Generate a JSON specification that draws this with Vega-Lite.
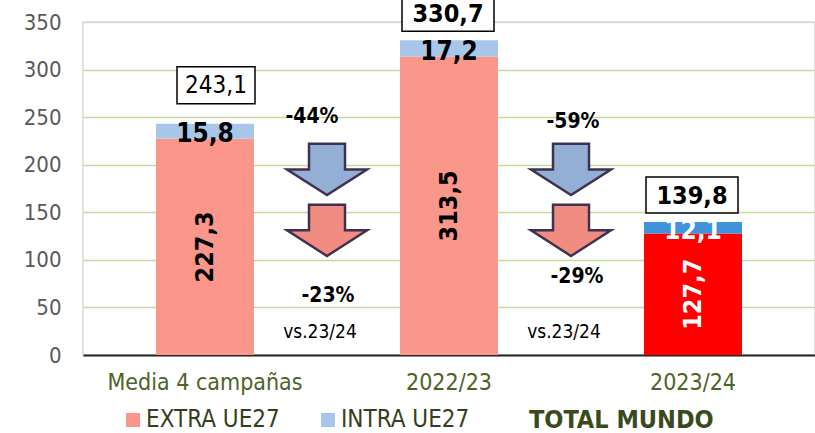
{
  "$schema": "https://vega.github.io/schema/vega-lite/v6.json",
  "width": 732,
  "height": 333,
  "autosize": {"type": "none"},
  "padding": {"left": 83, "top": 22, "right": 0, "bottom": 78},
  "background": "white",
  "config": {
    "locale": {"number": {"decimal": ",", "thousands": ".", "grouping": [3], "currency": ["", " €"]}},
    "font": "DejaVu Sans Condensed",
    "view": {"stroke": "#D9D9D9", "strokeWidth": 1.5}
  },
  "datasets": {
    "campanas": [
      {"campana": "Media 4 campañas", "serie": "EXTRA UE27", "valor": 227.3},
      {"campana": "Media 4 campañas", "serie": "INTRA UE27", "valor": 15.8},
      {"campana": "2022/23", "serie": "EXTRA UE27", "valor": 313.5},
      {"campana": "2022/23", "serie": "INTRA UE27", "valor": 17.2},
      {"campana": "2023/24", "serie": "EXTRA UE27", "valor": 127.7},
      {"campana": "2023/24", "serie": "INTRA UE27", "valor": 12.1}
    ],
    "cambios": [
      {"campana": "Media 4 campañas", "intra": "-44%", "extra": "-23%", "ref": "vs.23/24"},
      {"campana": "2022/23", "intra": "-59%", "extra": "-29%", "ref": "vs.23/24"}
    ]
  },
  "layer": [
    {
      "data": {"name": "campanas"},
      "mark": {"type": "bar", "width": 98},
      "encoding": {
        "x": {
          "field": "campana", "type": "nominal",
          "scale": {"domain": ["Media 4 campañas", "2022/23", "2023/24"], "paddingInner": 0, "paddingOuter": 0},
          "axis": {"title": null, "labelAngle": 0, "ticks": false, "domainColor": "#262626", "domainWidth": 2, "labelColor": "#4F6228", "labelFontSize": 23, "labelPadding": 16, "labelLimit": 400, "grid": false}
        },
        "y": {
          "field": "valor", "type": "quantitative", "stack": "zero",
          "scale": {"domain": [0, 350], "nice": false},
          "axis": {"title": null, "values": [0, 50, 100, 150, 200, 250, 300, 350], "ticks": false, "domain": false, "labelColor": "#595959", "labelFontSize": 22, "labelPadding": 22, "gridWidth": 1.5, "gridColor": {"condition": {"test": "datum.value >= 350", "value": "#D9D9D9"}, "value": "#C6D9A0"}}
        },
        "color": {
          "condition": [
            {"test": "datum.campana === '2023/24' && datum.serie === 'EXTRA UE27'", "value": "#FF0000"},
            {"test": "datum.campana === '2023/24' && datum.serie === 'INTRA UE27'", "value": "#3E93DC"}
          ],
          "field": "serie", "type": "nominal",
          "scale": {"domain": ["EXTRA UE27", "INTRA UE27"], "range": ["#FA968A", "#A7C6EA"]},
          "legend": {"orient": "none", "legendX": 38, "legendY": 386, "direction": "horizontal", "title": "TOTAL MUNDO", "titleOrient": "right", "titleFontSize": 25, "titleFontWeight": "bold", "titleColor": "#3B4A1E", "titlePadding": 60, "titleLimit": 400, "labelLimit": 400, "labelFontSize": 24, "labelColor": "#33401C", "symbolType": "square", "symbolSize": 196, "columnPadding": 36, "labelOffset": 1, "padding": 0}
        },
        "order": {"field": "serie", "sort": "ascending"}
      }
    },
    {
      "data": {"name": "campanas"},
      "transform": [
        {"stack": "valor", "groupby": ["campana"], "sort": [{"field": "serie"}], "as": ["v0", "v1"]},
        {"calculate": "(datum.v0 + datum.v1) / 2", "as": "mid"},
        {"filter": "datum.serie === 'EXTRA UE27'"}
      ],
      "mark": {"type": "text", "angle": 270, "fontSize": 25, "fontWeight": "bold", "align": "center", "baseline": "middle"},
      "encoding": {
        "x": {"field": "campana", "type": "nominal"},
        "y": {"field": "mid", "type": "quantitative"},
        "text": {"field": "valor", "type": "quantitative", "format": ".1f"},
        "color": {"condition": {"test": "datum.campana === '2023/24'", "value": "white"}, "value": "black"}
      }
    },
    {
      "data": {"name": "campanas"},
      "transform": [
        {"stack": "valor", "groupby": ["campana"], "sort": [{"field": "serie"}], "as": ["v0", "v1"]},
        {"calculate": "(datum.v0 + datum.v1) / 2", "as": "mid"},
        {"filter": "datum.serie === 'INTRA UE27'"}
      ],
      "mark": {"type": "text", "fontSize": 26, "fontWeight": "bold", "align": "center", "baseline": "middle", "dy": 3},
      "encoding": {
        "x": {"field": "campana", "type": "nominal"},
        "y": {"field": "mid", "type": "quantitative"},
        "text": {"field": "valor", "type": "quantitative", "format": ".1f"},
        "color": {"condition": {"test": "datum.campana === '2023/24'", "value": "white"}, "value": "black"}
      }
    },
    {
      "data": {"name": "campanas"},
      "transform": [
        {"aggregate": [{"op": "sum", "field": "valor", "as": "total"}], "groupby": ["campana"]},
        {"filter": "datum.campana === 'Media 4 campañas'"}
      ],
      "mark": {"type": "bar", "width": 78, "xOffset": 11, "yOffset": -57, "y2Offset": -20, "fill": "white", "stroke": "black", "strokeWidth": 1.5},
      "encoding": {
        "x": {"field": "campana", "type": "nominal"},
        "y": {"field": "total", "type": "quantitative"},
        "y2": {"field": "total"}
      }
    },
    {
      "data": {"name": "campanas"},
      "transform": [
        {"aggregate": [{"op": "sum", "field": "valor", "as": "total"}], "groupby": ["campana"]},
        {"filter": "datum.campana === 'Media 4 campañas'"}
      ],
      "mark": {"type": "text", "fontSize": 24, "align": "center", "baseline": "middle", "dx": 11, "dy": -38, "color": "black"},
      "encoding": {
        "x": {"field": "campana", "type": "nominal"},
        "y": {"field": "total", "type": "quantitative"},
        "text": {"field": "total", "type": "quantitative", "format": ".1f"}
      }
    },
    {
      "data": {"name": "campanas"},
      "transform": [
        {"aggregate": [{"op": "sum", "field": "valor", "as": "total"}], "groupby": ["campana"]},
        {"filter": "datum.campana !== 'Media 4 campañas'"}
      ],
      "mark": {"type": "bar", "width": 92, "xOffset": -1, "yOffset": -45, "y2Offset": -9, "fill": "white", "stroke": "black", "strokeWidth": 1.5},
      "encoding": {
        "x": {"field": "campana", "type": "nominal"},
        "y": {"field": "total", "type": "quantitative"},
        "y2": {"field": "total"}
      }
    },
    {
      "data": {"name": "campanas"},
      "transform": [
        {"aggregate": [{"op": "sum", "field": "valor", "as": "total"}], "groupby": ["campana"]},
        {"filter": "datum.campana !== 'Media 4 campañas'"}
      ],
      "mark": {"type": "text", "fontSize": 25, "fontWeight": "bold", "align": "center", "baseline": "middle", "dx": -1, "dy": -26, "color": "black"},
      "encoding": {
        "x": {"field": "campana", "type": "nominal"},
        "y": {"field": "total", "type": "quantitative"},
        "text": {"field": "total", "type": "quantitative", "format": ".1f"}
      }
    },
    {
      "data": {"name": "cambios"},
      "mark": {"type": "point", "shape": "M -0.45 -0.64 L 0.45 -0.64 L 0.45 0 L 1 0 L 0 0.64 L -1 0 L -0.45 0 Z", "size": 6400, "filled": true, "fill": "#93AFD5", "stroke": "#3F3151", "strokeWidth": 2.5, "opacity": 1},
      "encoding": {
        "x": {"field": "campana", "type": "nominal", "bandPosition": 1},
        "y": {"datum": 195, "type": "quantitative"}
      }
    },
    {
      "data": {"name": "cambios"},
      "mark": {"type": "point", "shape": "M -0.45 -0.64 L 0.45 -0.64 L 0.45 0 L 1 0 L 0 0.64 L -1 0 L -0.45 0 Z", "size": 6400, "filled": true, "fill": "#F08C80", "stroke": "#3F3151", "strokeWidth": 2.5, "opacity": 1},
      "encoding": {
        "x": {"field": "campana", "type": "nominal", "bandPosition": 1},
        "y": {"datum": 131, "type": "quantitative"}
      }
    },
    {
      "data": {"name": "cambios"},
      "transform": [{"filter": "datum.campana === 'Media 4 campañas'"}],
      "mark": {"type": "text", "fontSize": 21, "fontWeight": "bold", "align": "center", "baseline": "middle", "color": "black", "dx": -15},
      "encoding": {
        "x": {"field": "campana", "type": "nominal", "bandPosition": 1},
        "y": {"datum": 250, "type": "quantitative"},
        "text": {"field": "intra"}
      }
    },
    {
      "data": {"name": "cambios"},
      "transform": [{"filter": "datum.campana === '2022/23'"}],
      "mark": {"type": "text", "fontSize": 21, "fontWeight": "bold", "align": "center", "baseline": "middle", "color": "black", "dx": 2},
      "encoding": {
        "x": {"field": "campana", "type": "nominal", "bandPosition": 1},
        "y": {"datum": 245, "type": "quantitative"},
        "text": {"field": "intra"}
      }
    },
    {
      "data": {"name": "cambios"},
      "transform": [{"filter": "datum.campana === 'Media 4 campañas'"}],
      "mark": {"type": "text", "fontSize": 21, "fontWeight": "bold", "align": "center", "baseline": "middle", "color": "black", "dx": 1},
      "encoding": {
        "x": {"field": "campana", "type": "nominal", "bandPosition": 1},
        "y": {"datum": 62, "type": "quantitative"},
        "text": {"field": "extra"}
      }
    },
    {
      "data": {"name": "cambios"},
      "transform": [{"filter": "datum.campana === '2022/23'"}],
      "mark": {"type": "text", "fontSize": 21, "fontWeight": "bold", "align": "center", "baseline": "middle", "color": "black", "dx": 6},
      "encoding": {
        "x": {"field": "campana", "type": "nominal", "bandPosition": 1},
        "y": {"datum": 82, "type": "quantitative"},
        "text": {"field": "extra"}
      }
    },
    {
      "data": {"name": "cambios"},
      "mark": {"type": "text", "fontSize": 19, "align": "center", "baseline": "middle", "color": "black", "dx": -7},
      "encoding": {
        "x": {"field": "campana", "type": "nominal", "bandPosition": 1},
        "y": {"datum": 24, "type": "quantitative"},
        "text": {"field": "ref"}
      }
    }
  ]
}
